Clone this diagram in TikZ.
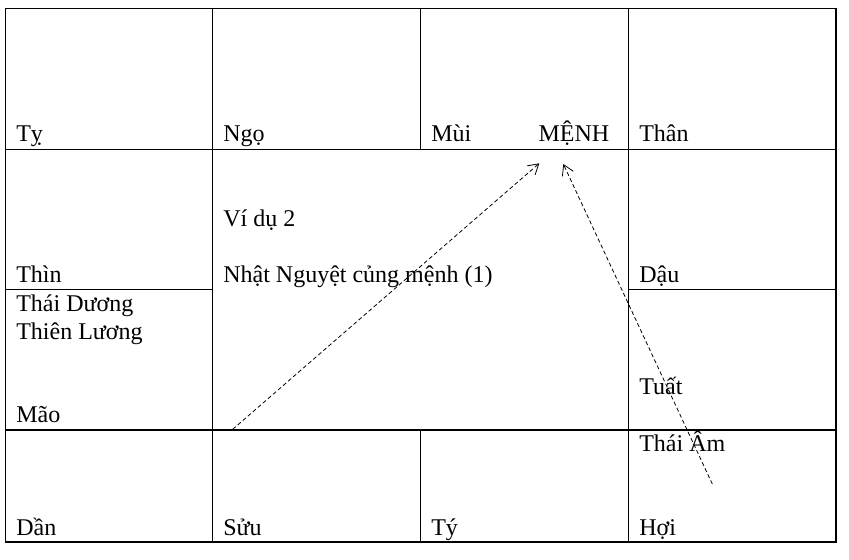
\documentclass[tikz,border=0pt]{standalone}
\usepackage{fontspec}
\setmainfont{Liberation Serif}
\usetikzlibrary{arrows.meta}

\begin{document}
\begin{tikzpicture}[x=0.75pt,y=-0.75pt]
\tikzstyle{grid}=[line width=0.85pt]
\tikzstyle{lbl}=[anchor=base west, inner sep=0pt, font=\fontsize{18}{21}\selectfont]
\tikzstyle{hint}=[line width=0.6pt, dash pattern=on 3pt off 2pt, -{Straight Barb[length=7.5pt,width=9pt]}]

\useasboundingbox (0,0) rectangle (849,560);

% grid
\draw[grid] (5.5,8.5) rectangle (836,542);
\draw[grid] (5.5,149.5) -- (836,149.5);
\draw[grid] (5.5,430) -- (836,430);
\draw[grid] (5.5,289.5) -- (212.5,289.5);
\draw[grid] (628.5,289.5) -- (836,289.5);
\draw[grid] (212.5,8.5) -- (212.5,542);
\draw[grid] (628.5,8.5) -- (628.5,542);
\draw[grid] (420.5,8.5) -- (420.5,149.5);
\draw[grid] (420.5,430) -- (420.5,542);

% top row
\node(ty)[lbl] at (16,141.7) {Tỵ};
\node(ngo)[lbl] at (223,141.7) {Ngọ};
\node(mui)[lbl] at (431,141.7) {Mùi};
\node(menh)[lbl] at (538.3,141.7) {MỆNH};
\node(than)[lbl] at (639,141.7) {Thân};

% left and right columns
\node(thin)[lbl] at (16,282) {Thìn};
\node(daiduong)[lbl] at (16,311.7) {Thái Dương};
\node(thienluong)[lbl] at (16,339.3) {Thiên Lương};
\node(mao)[lbl] at (16,422.7) {Mão};
\node(dau)[lbl] at (639,282) {Dậu};
\node(tuat)[lbl] at (639,394.3) {Tuất};
\node(thaiam)[lbl] at (639,451) {Thái Âm};

% centre
\node(vidu)[lbl] at (223,226.7) {Ví dụ 2};
\node(nhatnguyet)[lbl] at (223,282.7) {Nhật Nguyệt củng mệnh (1)};

% bottom row
\node(dan)[lbl] at (16,535.5) {Dần};
\node(suu)[lbl] at (223,535.5) {Sửu};
\node(tyy)[lbl] at (431,535.5) {Tý};
\node(hoi)[lbl] at (639,535.5) {Hợi};

% arrows to MENH
\coordinate(st1) at (232.7,429.3);
\coordinate(tip1) at (539.3,163.3);
\coordinate(st2) at (712.3,484);
\coordinate(tip2) at (563.3,164);
\draw[hint] (st1) -- (tip1);
\draw[hint] (st2) -- (tip2);

\end{tikzpicture}
\end{document}
